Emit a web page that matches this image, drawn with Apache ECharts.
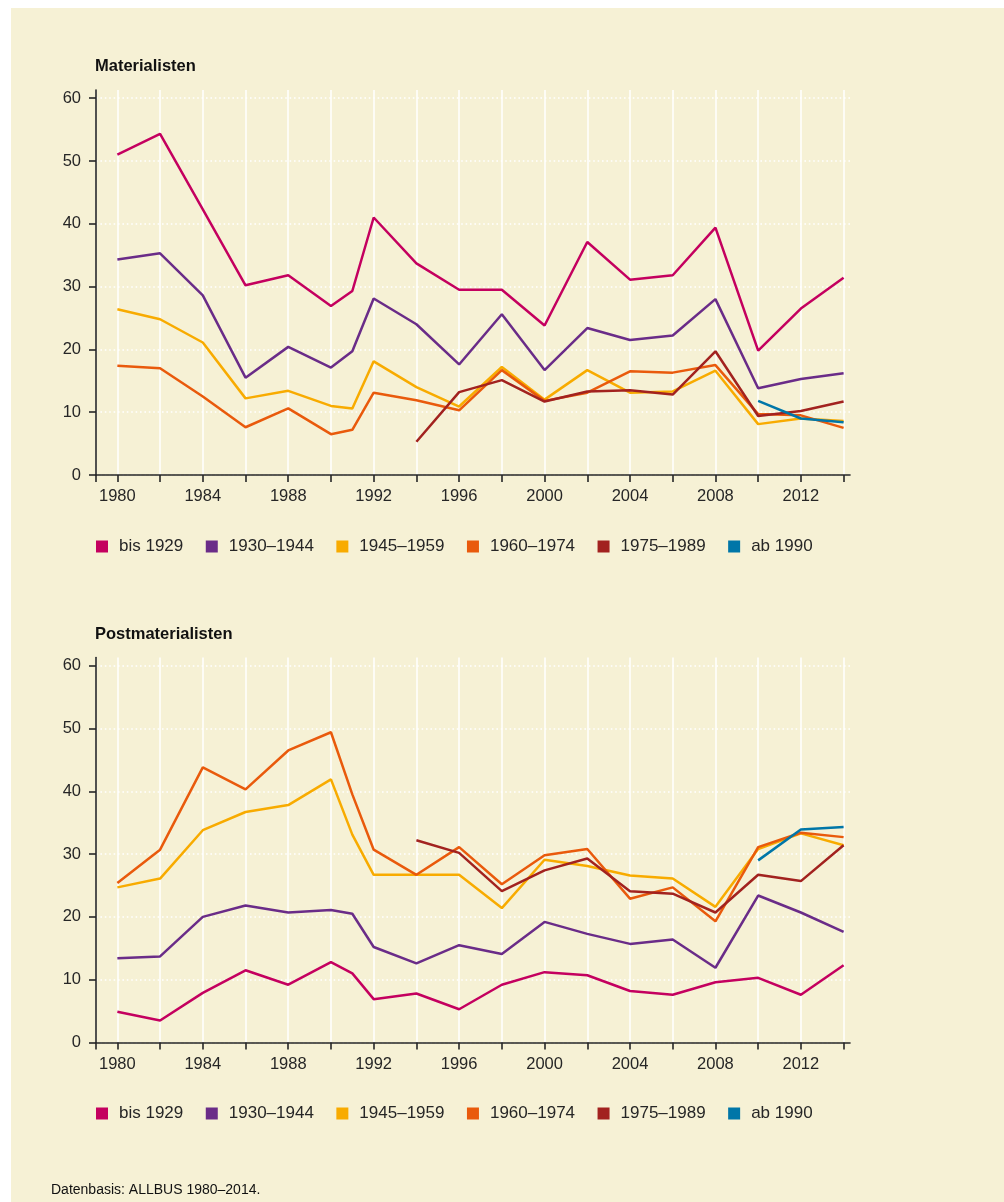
<!DOCTYPE html>
<html>
<head>
<meta charset="utf-8">
<script src="https://cdn.jsdelivr.net/npm/echarts@6/dist/echarts.min.js"></script>
<style>
  html, body { margin: 0; padding: 0; background: #fff; }
  #panel { position: absolute; left: 11px; top: 8px; width: 993px; height: 1194px; background: #f6f1d5; }
  #chart { position: absolute; left: 0; top: 0; width: 1004px; height: 1202px; }
</style>
</head>
<body>
<div id="panel"></div>
<div id="chart"></div>
<script>
// survey years (ALLBUS)
const years = [1980, 1982, 1984, 1986, 1988, 1990, 1991, 1992, 1994, 1996, 1998, 2000, 2002, 2004, 2006, 2008, 2010, 2012, 2014];
const yearLabels = [1980, 1984, 1988, 1992, 1996, 2000, 2004, 2008, 2012];
const valueLabels = [0, 10, 20, 30, 40, 50, 60];
const cohorts = ['bis 1929', '1930–1944', '1945–1959', '1960–1974', '1975–1989', 'ab 1990'];
const colors = ['#c4005f', '#6a2c88', '#f8ab00', '#e95a0c', '#a2221f', '#0076a8'];

// Materialisten, % per cohort
const matBis1929 = [51.0, 54.3, 42.3, 30.2, 31.8, 26.9, 29.3, 41.0, 33.7, 29.5, 29.5, 23.8, 37.1, 31.1, 31.8, 39.4, 19.8, 26.5, 31.4];
const mat1930 = [34.3, 35.3, 28.6, 15.5, 20.4, 17.1, 19.7, 28.1, 24.0, 17.6, 25.6, 16.7, 23.4, 21.5, 22.2, 28.0, 13.8, 15.3, 16.2];
const mat1945 = [26.4, 24.8, 21.1, 12.2, 13.4, 11.0, 10.6, 18.1, 14.0, 10.9, 17.2, 12.0, 16.7, 13.1, 13.3, 16.6, 8.1, 9.0, 8.6];
const mat1960 = [17.4, 17.0, 12.5, 7.6, 10.6, 6.5, 7.2, 13.1, 11.9, 10.3, 16.7, 11.8, 13.1, 16.5, 16.3, 17.5, 9.7, 9.5, 7.5];
const mat1975 = [null, null, null, null, null, null, null, null, 5.3, 13.2, 15.1, 11.7, 13.3, 13.5, 12.8, 19.7, 9.4, 10.2, 11.7];
const matAb1990 = [null, null, null, null, null, null, null, null, null, null, null, null, null, null, null, null, 11.8, 9.0, 8.4];

// Postmaterialisten, % per cohort
const postBis1929 = [4.9, 3.5, 7.9, 11.5, 9.2, 12.8, 11.0, 6.9, 7.8, 5.3, 9.2, 11.2, 10.7, 8.2, 7.6, 9.6, 10.3, 7.6, 12.3];
const post1930 = [13.4, 13.7, 20.0, 21.8, 20.7, 21.1, 20.5, 15.2, 12.6, 15.5, 14.1, 19.2, 17.3, 15.7, 16.4, 11.9, 23.4, 20.7, 17.6];
const post1945 = [24.7, 26.1, 33.8, 36.7, 37.8, 41.9, 33.1, 26.7, 26.7, 26.7, 21.4, 29.1, 28.1, 26.6, 26.1, 21.6, 30.8, 33.3, 31.4];
const post1960 = [25.4, 30.7, 43.8, 40.3, 46.5, 49.4, 39.5, 30.7, 26.7, 31.1, 25.2, 29.8, 30.8, 22.9, 24.7, 19.3, 31.1, 33.4, 32.7];
const post1975 = [null, null, null, null, null, null, null, null, 32.2, 30.2, 24.1, 27.4, 29.3, 24.1, 23.7, 20.7, 26.7, 25.7, 31.4];
const postAb1990 = [null, null, null, null, null, null, null, null, null, null, null, null, null, null, null, null, 29.0, 33.9, 34.3];

const matSeries = [matBis1929, mat1930, mat1945, mat1960, mat1975, matAb1990];
const postSeries = [postBis1929, post1930, post1945, post1960, post1975, postAb1990];

const font = 'Liberation Sans, Arial, sans-serif';
const ink = '#262626';
const xMin = 1979;
// ticks / vertical grid at survey years (not 1991) plus axis start
const xTicks = [xMin].concat(years.filter(y => y !== 1991));

function makeX (gridIndex) {
  return {
    type: 'value', gridIndex: gridIndex, min: xMin, max: 2014.3,
    axisLine: { onZero: false, lineStyle: { color: ink, width: 1.6 } },
    axisTick: { length: 7, customValues: xTicks, lineStyle: { color: ink, width: 1.6 } },
    axisLabel: { customValues: yearLabels, formatter: v => String(v), margin: 13, color: ink, fontSize: 16.5, fontFamily: font },
    splitLine: { show: true, lineStyle: { color: '#ffffff', width: 1.5 } }
  };
}

function makeY (gridIndex) {
  return {
    type: 'value', gridIndex: gridIndex, min: 0, max: 61.3, interval: 10,
    axisLine: { show: true, lineStyle: { color: ink, width: 1.6 } },
    axisTick: { show: true, length: 7, customValues: valueLabels, lineStyle: { color: ink, width: 1.6 } },
    axisLabel: { customValues: valueLabels, margin: 15, color: ink, fontSize: 16.5, fontFamily: font },
    splitLine: { show: true, lineStyle: { color: '#ffffff', width: 1.6, type: [1.6, 2.8] } }
  };
}

function makeSeries (list, axisIndex) {
  return list.map((values, i) => ({
    name: cohorts[i],
    type: 'line',
    xAxisIndex: axisIndex,
    yAxisIndex: axisIndex,
    symbol: 'none',
    color: colors[i],
    lineStyle: { width: 2.5, color: colors[i] },
    emphasis: { disabled: true },
    data: years.map((y, k) => values[k] == null ? null : [y, values[k]]).filter(d => d)
  }));
}

function makeLegend (top) {
  return {
    top: top, left: 96, padding: 0,
    icon: 'rect', itemWidth: 12, itemHeight: 12, itemGap: 22.5,
    selectedMode: false,
    textStyle: { color: ink, fontSize: 17, fontFamily: font, padding: [0, 0, 0, 6] },
    data: cohorts
  };
}

const chart = echarts.init(document.getElementById('chart'));
chart.setOption({
  animation: false,
  textStyle: { fontFamily: font },
  title: [
    { text: 'Materialisten', left: 95, top: 58, padding: 0, textStyle: { fontSize: 16.5, fontWeight: 'bold', color: '#111', fontFamily: font } },
    { text: 'Postmaterialisten', left: 95, top: 626, padding: 0, textStyle: { fontSize: 16.5, fontWeight: 'bold', color: '#111', fontFamily: font } },
    { text: 'Datenbasis: ALLBUS 1980–2014.', left: 51, top: 1183, padding: 0, textStyle: { fontSize: 14, fontWeight: 'normal', color: '#111', fontFamily: font } }
  ],
  legend: [makeLegend(538), makeLegend(1105)],
  grid: [
    { left: 96, right: 154, top: 90, height: 385 },
    { left: 96, right: 154, top: 657.5, height: 385 }
  ],
  xAxis: [makeX(0), makeX(1)],
  yAxis: [makeY(0), makeY(1)],
  series: makeSeries(matSeries, 0).concat(makeSeries(postSeries, 1))
});
</script>
</body>
</html>
